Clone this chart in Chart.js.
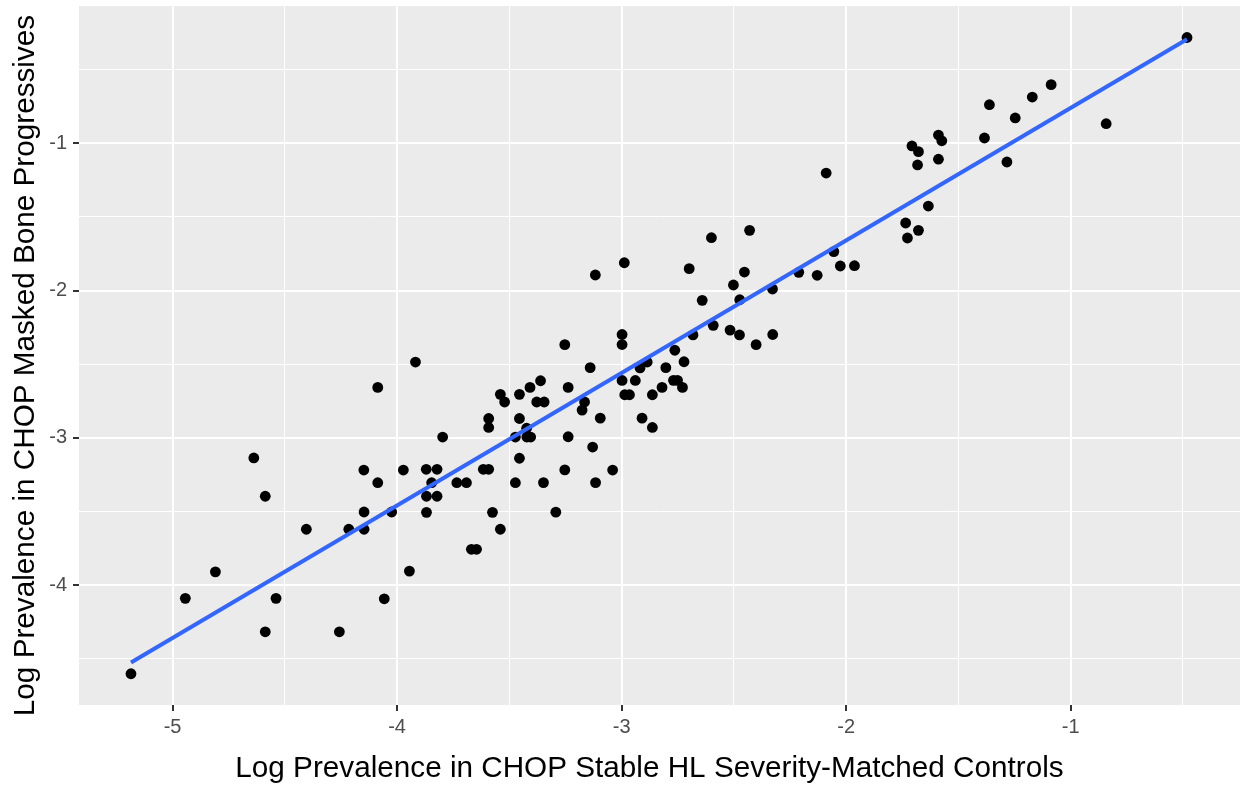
<!DOCTYPE html>
<html>
<head>
<meta charset="utf-8">
<title>Log prevalence scatter</title>
<script src="https://cdn.jsdelivr.net/npm/chart.js@4.4.1/dist/chart.umd.min.js"></script>
<style>
  html, body { margin: 0; padding: 0; background: #ffffff; }
</style>
</head>
<body>
<canvas id="myChart" width="1248" height="789"></canvas>
<script>
// log prevalence in stable controls (x) and masked bone progressives (y)
const stableX = [
  -5.185, -4.943, -4.809, -4.638, -4.587, -4.539, -4.587, -4.404, -4.257, -4.215,
  -4.148, -4.147, -4.147, -4.086, -4.086, -4.057, -4.024, -3.972, -3.945, -3.918,
  -3.870, -3.869, -3.869, -3.846, -3.822, -3.822, -3.797, -3.734, -3.691, -3.669,
  -3.646, -3.616, -3.592, -3.592, -3.592, -3.575, -3.540, -3.521, -3.540, -3.473,
  -3.473, -3.455, -3.455, -3.455, -3.423, -3.422, -3.405, -3.408, -3.361, -3.378,
  -3.345, -3.348, -3.293, -3.253, -3.253, -3.238, -3.238, -3.176, -3.165, -3.140,
  -3.129, -3.117, -3.116, -3.095, -3.040, -2.998, -2.998, -2.998, -2.988, -2.986,
  -2.965, -2.939, -2.918, -2.909, -2.886, -2.863, -2.863, -2.820, -2.803, -2.769,
  -2.751, -2.763, -2.729, -2.722, -2.699, -2.682, -2.641, -2.600, -2.592, -2.517,
  -2.502, -2.474, -2.475, -2.453, -2.430, -2.401, -2.328, -2.327, -2.211, -2.129,
  -2.089, -2.055, -2.026, -1.963, -1.735, -1.727, -1.678, -1.634, -1.707, -1.678,
  -1.682, -1.589, -1.574, -1.589, -1.384, -1.362, -1.284, -1.247, -1.171, -1.087,
  -0.842, -0.482
];
const progressiveY = [
  -4.601, -4.089, -3.909, -3.136, -3.396, -4.089, -4.316, -3.620, -4.316, -3.620,
  -3.218, -3.503, -3.620, -2.657, -3.304, -4.092, -3.503, -3.218, -3.904, -2.485,
  -3.213, -3.396, -3.505, -3.304, -3.213, -3.396, -2.994, -3.304, -3.304, -3.756,
  -3.756, -3.213, -3.213, -2.868, -2.929, -3.505, -2.704, -2.756, -3.620, -2.994,
  -3.304, -2.704, -2.868, -3.138, -2.934, -2.994, -2.994, -2.657, -2.612, -2.756,
  -2.756, -3.303, -3.504, -2.367, -3.217, -2.657, -2.992, -2.811, -2.756, -2.523,
  -3.062, -1.894, -3.303, -2.866, -3.218, -2.298, -2.366, -2.610, -1.811, -2.707,
  -2.707, -2.610, -2.525, -2.866, -2.485, -2.707, -2.929, -2.657, -2.523, -2.609,
  -2.609, -2.405, -2.657, -2.483, -1.851, -2.301, -2.066, -1.641, -2.236, -2.268,
  -1.962, -2.062, -2.301, -1.874, -1.591, -2.367, -1.989, -2.298, -1.876, -1.896,
  -1.202, -1.735, -1.833, -1.831, -1.541, -1.643, -1.591, -1.426, -1.018, -1.057,
  -1.147, -0.944, -0.983, -1.108, -0.964, -0.738, -1.127, -0.828, -0.686, -0.602,
  -0.867, -0.282
];

// axis ticks (labelled majors, unlabelled minor gridlines)
const xMajorTicks = [-5, -4, -3, -2, -1];
const xMinorTicks = [-4.5, -3.5, -2.5, -1.5, -0.5];
const yMajorTicks = [-4, -3, -2, -1];
const yMinorTicks = [-4.5, -3.5, -2.5, -1.5, -0.5];

const xTitle = "Log Prevalence in CHOP Stable HL Severity-Matched Controls";
const yTitle = "Log Prevalence in CHOP Masked Bone Progressives";

const FONT = '"Liberation Sans", Arial, Helvetica, sans-serif';

// plain least squares, same as geom_smooth(method = "lm")
function fitLine(xs, ys) {
  const n = xs.length;
  let mx = 0, my = 0;
  for (let i = 0; i < n; i++) { mx += xs[i]; my += ys[i]; }
  mx /= n; my /= n;
  let sxy = 0, sxx = 0;
  for (let i = 0; i < n; i++) {
    sxy += (xs[i] - mx) * (ys[i] - my);
    sxx += (xs[i] - mx) * (xs[i] - mx);
  }
  const slope = sxy / sxx;
  return { slope: slope, intercept: my - slope * mx };
}

function setTicks(major, minor) {
  return (scale) => {
    scale.ticks = major.concat(minor).sort((a, b) => a - b).map(v => ({ value: v }));
  };
}

const panelBg = {
  id: "panelBg",
  beforeDraw(chart) {
    const { ctx, chartArea } = chart;
    ctx.save();
    ctx.fillStyle = "#EBEBEB";
    ctx.fillRect(chartArea.left, chartArea.top, chartArea.right - chartArea.left, chartArea.bottom - chartArea.top);
    ctx.restore();
  }
};

const axisTitles = {
  id: "axisTitles",
  afterDraw(chart) {
    const { ctx, chartArea } = chart;
    ctx.save();
    ctx.fillStyle = "#000000";
    ctx.font = "29.7px " + FONT;
    ctx.textAlign = "center";
    ctx.textBaseline = "alphabetic";
    ctx.fillText(xTitle, (chartArea.left + chartArea.right) / 2 - 10, 777);
    ctx.translate(33.5, (chartArea.top + chartArea.bottom) / 2 + 10);
    ctx.rotate(-Math.PI / 2);
    ctx.fillText(yTitle, 0, 0);
    ctx.restore();
  }
};

function initChart(target) {
  const points = stableX.map((x, i) => ({ x: x, y: progressiveY[i] }));
  const fit = fitLine(stableX, progressiveY);
  const xLo = Math.min(...stableX);
  const xHi = Math.max(...stableX);
  const fitPoints = [
    { x: xLo, y: fit.intercept + fit.slope * xLo },
    { x: xHi, y: fit.intercept + fit.slope * xHi }
  ];

  const tickFont = { family: FONT, size: 20 };

  const config = {
    type: "scatter",
    data: {
      datasets: [
        {
          type: "line",
          label: "lm fit",
          data: fitPoints,
          borderColor: "#3366FF",
          borderWidth: 4,
          pointRadius: 0,
          fill: false,
          order: 0
        },
        {
          label: "genes",
          data: points,
          backgroundColor: "#000000",
          borderColor: "#000000",
          borderWidth: 0,
          pointRadius: 5.4,
          order: 1
        }
      ]
    },
    options: {
      responsive: false,
      animation: false,
      layout: { padding: { top: 6, right: 8, left: 0, bottom: 0 } },
      plugins: {
        legend: { display: false },
        tooltip: { enabled: false }
      },
      scales: {
        x: {
          type: "linear",
          min: -5.4165,
          max: -0.246,
          afterBuildTicks: setTicks(xMajorTicks, xMinorTicks),
          afterFit: (scale) => {
            scale.height = 84;
            scale.paddingLeft = 0;
            scale.paddingRight = 0;
          },
          border: { display: false },
          grid: {
            color: "#FFFFFF",
            lineWidth: (c) => (xMajorTicks.includes(c.tick.value) ? 2 : 1),
            tickColor: (c) => (xMajorTicks.includes(c.tick.value) ? "#333333" : "rgba(0,0,0,0)"),
            tickLength: 6,
            tickWidth: 2
          },
          ticks: {
            autoSkip: false,
            maxRotation: 0,
            padding: 4,
            color: "#4D4D4D",
            font: tickFont,
            callback: (v) => (xMajorTicks.includes(v) ? String(v) : "")
          }
        },
        y: {
          type: "linear",
          min: -4.813,
          max: -0.068,
          afterBuildTicks: setTicks(yMajorTicks, yMinorTicks),
          afterFit: (scale) => {
            scale.width = 79;
            scale.paddingTop = 0;
            scale.paddingBottom = 0;
          },
          border: { display: false },
          grid: {
            color: "#FFFFFF",
            lineWidth: (c) => (yMajorTicks.includes(c.tick.value) ? 2 : 1),
            tickColor: (c) => (yMajorTicks.includes(c.tick.value) ? "#333333" : "rgba(0,0,0,0)"),
            tickLength: 6,
            tickWidth: 2
          },
          ticks: {
            autoSkip: false,
            padding: 6,
            color: "#4D4D4D",
            font: tickFont,
            callback: (v) => (yMajorTicks.includes(v) ? String(v) : "")
          }
        }
      }
    },
    plugins: [panelBg, axisTitles]
  };

  return new Chart(target, config);
}

document.addEventListener("DOMContentLoaded", () => {
  initChart(document.querySelector("#myChart"));
});
</script>
</body>
</html>
